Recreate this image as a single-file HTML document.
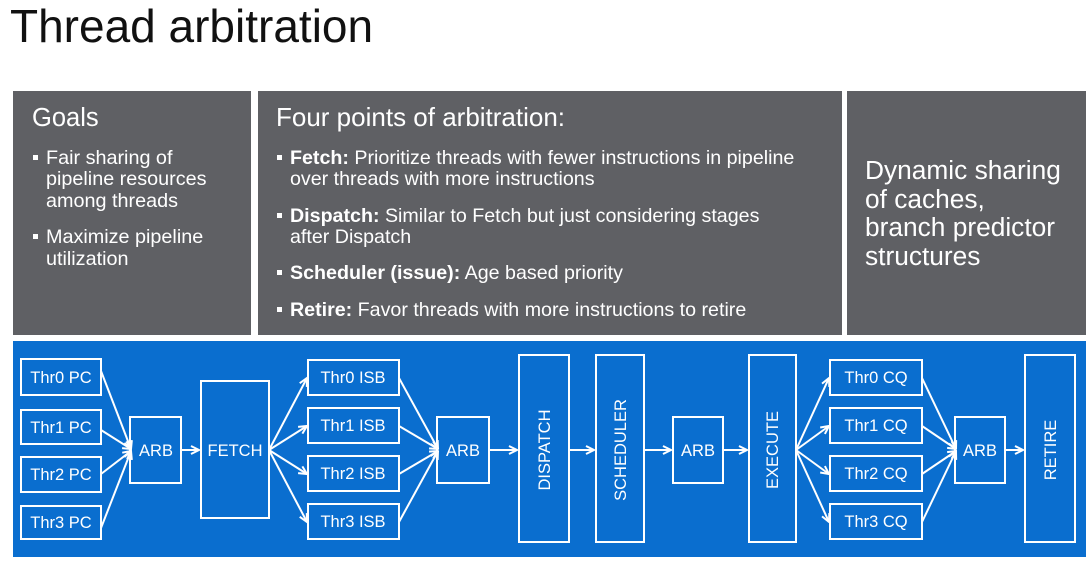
<!DOCTYPE html>
<html><head><meta charset="utf-8"><style>
html,body{margin:0;padding:0;background:#fff;}
body{width:1089px;height:564px;overflow:hidden;}
text{font-family:"Liberation Sans",Arial,sans-serif;}
</style></head><body>
<svg width="1089" height="564" viewBox="0 0 1089 564" xmlns="http://www.w3.org/2000/svg">
<defs>
<marker id="a" viewBox="0 0 10 10" refX="9" refY="5" markerWidth="10" markerHeight="10" markerUnits="userSpaceOnUse" orient="auto">
<path d="M1,1 L9,5 L1,9" fill="none" stroke="#fff" stroke-width="2"/>
</marker>
</defs>
<text x="10" y="42" font-size="46" fill="#111">Thread arbitration</text>

<rect x="13" y="91" width="238" height="244" fill="#5f6064"/>
<rect x="258" y="91" width="584" height="244" fill="#5f6064"/>
<rect x="847" y="91" width="239" height="244" fill="#5f6064"/>

<g fill="#fff">
<text x="32" y="126" font-size="25.5">Goals</text>
<g font-size="19.8">
<rect x="33" y="155" width="5" height="5"/>
<text x="46" y="164">Fair sharing of</text>
<text x="46" y="185">pipeline resources</text>
<text x="46" y="207">among threads</text>
<rect x="33" y="234" width="5" height="5"/>
<text x="46" y="243">Maximize pipeline</text>
<text x="46" y="265">utilization</text>
</g>
<text x="276" y="126" font-size="26">Four points of arbitration:</text>
<g font-size="19.65">
<rect x="277" y="155" width="5" height="5"/>
<text x="290" y="164"><tspan font-weight="bold">Fetch:</tspan> Prioritize threads with fewer instructions in pipeline</text>
<text x="290" y="185">over threads with more instructions</text>
<rect x="277" y="213" width="5" height="5"/>
<text x="290" y="222"><tspan font-weight="bold">Dispatch:</tspan> Similar to Fetch but just considering stages</text>
<text x="290" y="243">after Dispatch</text>
<rect x="277" y="270" width="5" height="5"/>
<text x="290" y="279"><tspan font-weight="bold">Scheduler (issue):</tspan> Age based priority</text>
<rect x="277" y="307" width="5" height="5"/>
<text x="290" y="316"><tspan font-weight="bold">Retire:</tspan> Favor threads with more instructions to retire</text>
</g>
<g font-size="26.3">
<text x="865" y="179">Dynamic sharing</text>
<text x="865" y="208">of caches,</text>
<text x="865" y="236">branch predictor</text>
<text x="865" y="265">structures</text>
</g>
</g>

<rect x="13" y="341" width="1073" height="216" fill="#0a6ecf"/>

<g fill="none" stroke="#fff" stroke-width="2">
<rect x="21" y="359" width="80" height="36"/>
<rect x="21" y="410" width="80" height="34"/>
<rect x="21" y="457" width="80" height="35"/>
<rect x="21" y="506" width="80" height="33"/>
<rect x="130" y="417" width="51" height="66"/>
<rect x="201" y="381" width="68" height="137"/>
<rect x="308" y="360" width="91" height="35"/>
<rect x="308" y="408" width="91" height="35"/>
<rect x="308" y="456" width="91" height="35"/>
<rect x="308" y="504" width="91" height="35"/>
<rect x="437" y="417" width="52" height="66"/>
<rect x="519" y="355" width="50" height="187"/>
<rect x="596" y="355" width="48" height="187"/>
<rect x="673" y="417" width="50" height="66"/>
<rect x="749" y="355" width="47" height="187"/>
<rect x="830" y="360" width="92" height="35"/>
<rect x="830" y="408" width="92" height="35"/>
<rect x="830" y="456" width="92" height="35"/>
<rect x="830" y="504" width="92" height="35"/>
<rect x="955" y="417" width="50" height="66"/>
<rect x="1025" y="355" width="50" height="187"/>
</g>

<g stroke="#fff" stroke-width="2" fill="none" marker-end="url(#a)">
<line x1="101" y1="371" x2="131" y2="449"/>
<line x1="101" y1="430" x2="131" y2="449"/>
<line x1="101" y1="474" x2="131" y2="451"/>
<line x1="101" y1="528" x2="131" y2="451"/>
<line x1="181" y1="450" x2="199" y2="450"/>
<line x1="269" y1="450" x2="307" y2="378"/>
<line x1="269" y1="450" x2="307" y2="426"/>
<line x1="269" y1="450" x2="307" y2="474"/>
<line x1="269" y1="450" x2="307" y2="522"/>
<line x1="399" y1="378" x2="438" y2="449"/>
<line x1="399" y1="426" x2="438" y2="449"/>
<line x1="399" y1="474" x2="438" y2="451"/>
<line x1="399" y1="522" x2="438" y2="451"/>
<line x1="489" y1="450" x2="517" y2="450"/>
<line x1="569" y1="450" x2="594" y2="450"/>
<line x1="644" y1="450" x2="671" y2="450"/>
<line x1="723" y1="450" x2="747" y2="450"/>
<line x1="796" y1="450" x2="829" y2="378"/>
<line x1="796" y1="450" x2="829" y2="426"/>
<line x1="796" y1="450" x2="829" y2="474"/>
<line x1="796" y1="450" x2="829" y2="522"/>
<line x1="922" y1="378" x2="956" y2="449"/>
<line x1="922" y1="426" x2="956" y2="449"/>
<line x1="922" y1="474" x2="956" y2="451"/>
<line x1="922" y1="522" x2="956" y2="451"/>
<line x1="1005" y1="450" x2="1023" y2="450"/>
</g>

<g fill="#fff" font-size="16.5" text-anchor="middle">
<text x="61" y="383">Thr0 PC</text>
<text x="61" y="433">Thr1 PC</text>
<text x="61" y="480">Thr2 PC</text>
<text x="61" y="528">Thr3 PC</text>
<text x="156" y="456">ARB</text>
<text x="235" y="456">FETCH</text>
<text x="353" y="383">Thr0 ISB</text>
<text x="353" y="431">Thr1 ISB</text>
<text x="353" y="479">Thr2 ISB</text>
<text x="353" y="527">Thr3 ISB</text>
<text x="463" y="456">ARB</text>
<text x="698" y="456">ARB</text>
<text x="876" y="383">Thr0 CQ</text>
<text x="876" y="431">Thr1 CQ</text>
<text x="876" y="479">Thr2 CQ</text>
<text x="876" y="527">Thr3 CQ</text>
<text x="980" y="456">ARB</text>
<text transform="translate(550,450) rotate(-90)">DISPATCH</text>
<text transform="translate(626,450) rotate(-90)">SCHEDULER</text>
<text transform="translate(778,450) rotate(-90)">EXECUTE</text>
<text transform="translate(1056,450) rotate(-90)">RETIRE</text>
</g>
</svg>
</body></html>
